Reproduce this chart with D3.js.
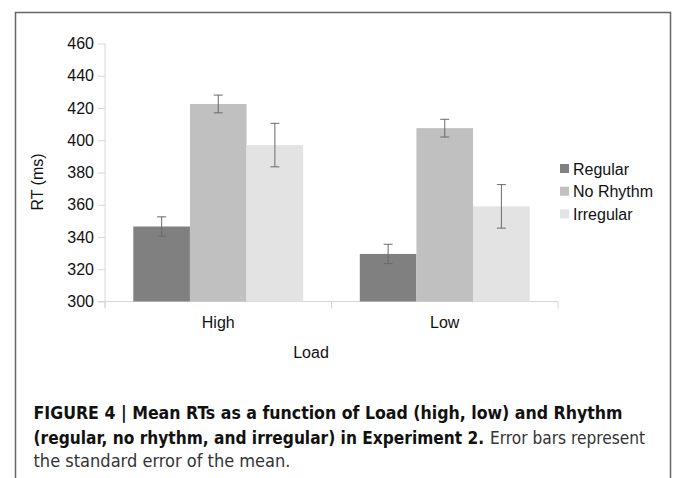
<!DOCTYPE html>
<html>
<head>
<meta charset="utf-8">
<script src="https://cdn.jsdelivr.net/npm/d3@7"></script>
<style>
  body { margin: 0; background: #fff; }
  svg { display: block; }
</style>
</head>
<body>
<div id="chart"></div>
<script>
// values (ms)
const loads = ['High', 'Low'];
const rhythms = ['Regular', 'No Rhythm', 'Irregular'];
const regular = [346.5, 329.5];
const noRhythm = [422.5, 407.5];
const irregular = [397, 359];
const regularErr = [6, 6];
const noRhythmErr = [5.5, 5.5];
const irregularErr = [13.5, 13.5];
const yTicks = [300, 320, 340, 360, 380, 400, 420, 440, 460];
const colors = ['#808080', '#c0c0c0', '#e3e3e3'];

const width = 673, height = 478;
const means = [regular, noRhythm, irregular];
const errs = [regularErr, noRhythmErr, irregularErr];
const chartFont = '"Liberation Sans", Arial, Helvetica, sans-serif';

const svg = d3.select('#chart').append('svg')
  .attr('width', width)
  .attr('height', height)
  .style('font-family', chartFont);

// frame around the figure
svg.append('path')
  .attr('d', 'M15.5,' + (height + 5) + 'V12.5H670.5V' + (height + 5))
  .attr('fill', 'none')
  .attr('stroke', '#666')
  .attr('stroke-width', 1.5);

const x0 = d3.scaleBand(loads, [105, 558]).paddingInner(0.25).paddingOuter(0.125);
const x1 = d3.scaleBand(rhythms, [0, x0.bandwidth()]);
const y = d3.scaleLinear([300, 460], [301.5, 43.5]);

// y axis
const yAxis = svg.append('g')
  .attr('transform', 'translate(105,0)')
  .call(d3.axisLeft(y).tickValues(yTicks).tickSize(7).tickPadding(4));
yAxis.attr('font-family', null).attr('font-size', null);
yAxis.select('.domain').attr('stroke', '#d6d6d6').attr('d', 'M0,' + y(460) + 'V' + (y(300) + 6));
yAxis.selectAll('.tick line').attr('stroke', '#d6d6d6');
yAxis.selectAll('.tick text')
  .attr('fill', '#111')
  .style('font-size', '16px');

// x axis with ticks at band boundaries
const xAxis = svg.append('g').attr('transform', 'translate(0,' + y(300) + ')');
xAxis.append('line')
  .attr('x1', 98).attr('x2', 558)
  .attr('stroke', '#d6d6d6');
xAxis.selectAll('.bound')
  .data([105, (x0('High') + x0.bandwidth() + x0('Low')) / 2, 558])
  .join('line')
    .attr('class', 'bound')
    .attr('x1', d => d).attr('x2', d => d)
    .attr('y1', 0).attr('y2', 7)
    .attr('stroke', '#d6d6d6');
xAxis.selectAll('.lab')
  .data(loads)
  .join('text')
    .attr('class', 'lab')
    .attr('x', d => x0(d) + x0.bandwidth() / 2)
    .attr('y', 26.5)
    .attr('text-anchor', 'middle')
    .attr('fill', '#111')
    .style('font-size', '16px')
    .text(d => d);

// bars
const groups = svg.append('g').selectAll('g')
  .data(loads)
  .join('g')
    .attr('transform', d => 'translate(' + x0(d) + ',0)');

groups.selectAll('rect')
  .data((d, i) => rhythms.map((r, j) => ({ r: r, j: j, v: means[j][i] })))
  .join('rect')
    .attr('x', d => x1(d.r))
    .attr('width', x1.bandwidth())
    .attr('y', d => y(d.v))
    .attr('height', d => y(300) - y(d.v))
    .attr('fill', d => colors[d.j]);

// error bars
const eb = groups.selectAll('g.err')
  .data((d, i) => rhythms.map((r, j) => ({ r: r, v: means[j][i], e: errs[j][i] })))
  .join('g')
    .attr('class', 'err')
    .attr('stroke', '#6a6a6a')
    .attr('stroke-width', 1);
eb.append('line')
  .attr('x1', d => x1(d.r) + x1.bandwidth() / 2)
  .attr('x2', d => x1(d.r) + x1.bandwidth() / 2)
  .attr('y1', d => y(d.v + d.e))
  .attr('y2', d => y(d.v - d.e));
eb.selectAll('line.cap')
  .data(d => [d.v + d.e, d.v - d.e].map(t => ({ r: d.r, t: t })))
  .join('line')
    .attr('class', 'cap')
    .attr('x1', d => x1(d.r) + x1.bandwidth() / 2 - 4.5)
    .attr('x2', d => x1(d.r) + x1.bandwidth() / 2 + 4.5)
    .attr('y1', d => y(d.t))
    .attr('y2', d => y(d.t));

// axis titles
svg.append('text')
  .attr('transform', 'translate(43,182) rotate(-90)')
  .attr('text-anchor', 'middle')
  .attr('fill', '#111')
  .style('font-size', '16px')
  .text('RT (ms)');

svg.append('text')
  .attr('x', 311)
  .attr('y', 358)
  .attr('text-anchor', 'middle')
  .attr('fill', '#111')
  .style('font-size', '16px')
  .text('Load');

// legend
const legend = svg.append('g').selectAll('g')
  .data(rhythms)
  .join('g')
    .attr('transform', (d, i) => 'translate(560,' + (164 + i * 22.7) + ')');
legend.append('rect')
  .attr('width', 9).attr('height', 9)
  .attr('fill', (d, i) => colors[i]);
legend.append('text')
  .attr('x', 13)
  .attr('y', 10.5)
  .attr('fill', '#111')
  .style('font-size', '16px')
  .text(d => d);

// caption: sized so each line fits its width in the figure
const cap = svg.append('g')
  .style('font-family', '"Liberation Sans Narrow", "DejaVu Sans Condensed", "Liberation Sans", sans-serif')
  .style('font-stretch', 'condensed')
  .style('font-size', '18px')
  .attr('fill', '#111');

const line1 = cap.append('text')
  .attr('x', 33.5).attr('y', 418.5)
  .attr('font-weight', 'bold')
  .text('FIGURE 4 | Mean RTs as a function of Load (high, low) and Rhythm');

const line2a = cap.append('text')
  .attr('x', 33.5).attr('y', 443.5)
  .attr('font-weight', 'bold')
  .text('(regular, no rhythm, and irregular) in Experiment 2.');
const line2b = cap.append('text')
  .attr('y', 443.5)
  .attr('fill', '#333')
  .text('Error bars represent');

const line3 = cap.append('text')
  .attr('x', 33.5).attr('y', 467)
  .attr('fill', '#333')
  .text('the standard error of the mean.');

const w1 = line1.node().getComputedTextLength();
const w2 = line2a.node().getComputedTextLength() + 6 + line2b.node().getComputedTextLength();
const w3 = line3.node().getComputedTextLength();
const k = Math.min(589 / w1, 612 / w2, 257 / w3, 1.1);
cap.style('font-size', (18 * k) + 'px');
line2b.attr('x', 33.5 + line2a.node().getComputedTextLength() + 6);
line1.attr('textLength', 589).attr('lengthAdjust', 'spacingAndGlyphs');
line3.attr('textLength', 257).attr('lengthAdjust', 'spacingAndGlyphs');
</script>
</body>
</html>
